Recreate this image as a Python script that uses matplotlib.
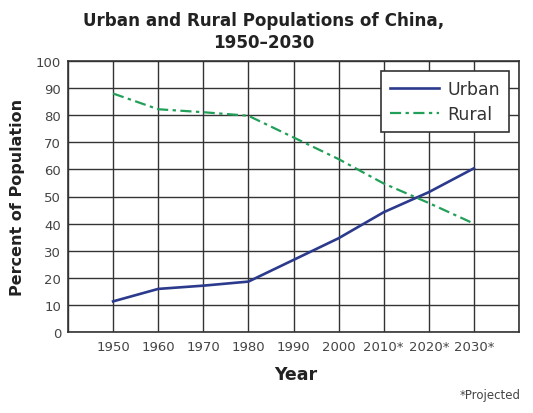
import matplotlib
matplotlib.use("Agg")
import matplotlib.pyplot as plt
import numpy as np

years = ["1950", "1960", "1970", "1980", "1990", "2000", "2010*", "2020*", "2030*"]
urban = [11.3, 15.9, 17.1, 18.6, 26.6, 34.6, 44.2, 51.6, 60.4]
rural = [88.0, 82.2, 81.1, 79.8, 71.8, 63.8, 54.8, 47.6, 40.0]
yticks = list(range(0, 101, 10))

plt.rcParams['font.family'] = ['DejaVu Sans']

fig = plt.figure(figsize=(5.33, 4.14), dpi=100)
ax = fig.add_axes([68/533, 1-333/414, (519-68)/533, (333-62)/414])

x = np.arange(len(years))
ax.plot(x, urban, color="#2b3a8c", lw=1.9, label="Urban")
ax.plot(x, rural, color="#22a05a", lw=1.6, ls=(0, (5, 2, 1.5, 2)), label="Rural")

ax.set_xlim(-1, len(years))
ax.set_ylim(0, 100)
ax.set_xticks(x)
ax.set_xticklabels(years)
ax.set_yticks(yticks)
ax.set_xticks(np.arange(-1, len(years) + 1), minor=True)
ax.grid(True, which="both", axis="x", color="#333333", lw=1.0)
ax.grid(True, axis="y", color="#333333", lw=1.0)
ax.set_axisbelow(True)
ax.tick_params(axis="both", which="both", length=0, labelsize=9.5, labelcolor="#444444", pad=6)
ax.tick_params(axis="y", pad=5)
for s in ax.spines.values():
    s.set_color("#333333")
    s.set_linewidth(1.2)

leg = ax.legend(loc="upper right", fontsize=12.5, frameon=True, fancybox=False,
                edgecolor="#333333", framealpha=1, handlelength=2.8, handletextpad=0.5,
                borderaxespad=0.6, labelspacing=0.4, borderpad=0.5)
leg.get_frame().set_linewidth(1.2)
for t in leg.get_texts():
    t.set_color("#333333")

fig.text(264/533, 1-20.5/414, "Urban and Rural Populations of China,", ha="center", va="center",
         fontsize=12.1, fontweight="bold", color="#222222")
fig.text(264/533, 1-43/414, "1950\u20132030", ha="center", va="center",
         fontsize=12.1, fontweight="bold", color="#222222")
fig.text(296/533, 1-375/414, "Year", ha="center", va="center", fontsize=12.5,
         fontweight="bold", color="#222222")
fig.text(18/533, 1-197/414, "Percent of Population", ha="center", va="center", rotation=90,
         fontsize=11.5, fontweight="bold", color="#222222")
fig.text(521/533, 1-396/414, "*Projected", ha="right", va="center", fontsize=8.5, color="#444444")

fig.savefig("out.png", dpi=100)
